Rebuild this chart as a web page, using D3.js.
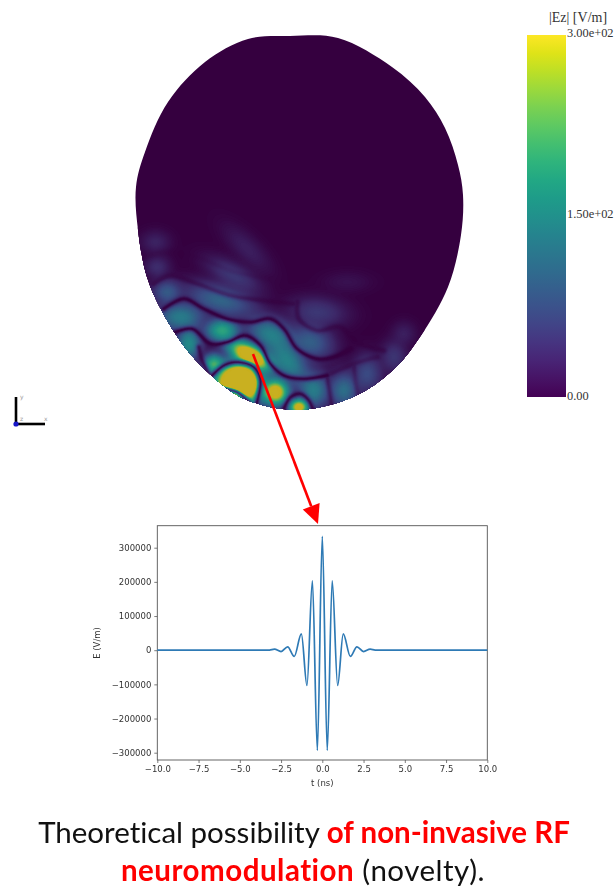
<!DOCTYPE html>
<html><head><meta charset="utf-8">
<script src="https://cdn.jsdelivr.net/npm/d3@7"></script>
<style>html,body{margin:0;padding:0;background:#fff}svg{display:block}</style></head>
<body><svg id="c" width="614" height="887"></svg>
<script>
// Waveform extrema
const waveT=[-10,-3.6,-3.2,-2.9,-2.5,-2.1,-1.7,-1.27,-0.93,-0.6,-0.3,0,0.3,0.6,0.93,1.27,1.7,2.1,2.5,2.9,3.2,3.6,10];
const waveE=[0,0,500,3000,-4000,10000,-18000,48000,-103000,203000,-293000,333000,-293000,203000,-103000,48000,-18000,10000,-4000,3000,500,0,0];
const xTicks=[-10,-7.5,-5,-2.5,0,2.5,5,7.5,10];
const yTicks=[-300000,-200000,-100000,0,100000,200000,300000];
// Head outline, picture units
const headX=[290,338,392,425,445,458,463,461,448,420,393,353,297,247,220,187,163,147,138,136,145,168,205,248];
const headY=[36,38,67,97,128,165,195,235,287,337,370,397,410,400,383,350,313,277,230,187,152,102,62,39];
// Field blobs: centre, radii (crop units), level, rotation
const blobX=[105,380,110,340,140,300,180,305,450,500,590,570,205,280,390,355,465,535,580,670,740,820,850,680];
const blobY=[65,85,140,165,215,240,290,330,340,420,275,365,370,430,405,490,515,560,510,510,460,410,340,185];
const blobRx=[36,75,32,72,36,85,58,40,60,70,70,55,30,26,58,55,32,24,38,36,36,32,30,60];
const blobRy=[28,30,28,30,30,36,36,28,38,38,36,42,40,24,26,50,32,20,44,44,46,40,30,26];
const blobV=[.1,.09,.13,.17,.3,.34,.44,.66,.44,.48,.17,.32,.52,.7,1.2,1.6,1.05,1.0,.44,.38,.24,.16,.09,.05];
const blobR=[0,45,0,28,0,15,0,0,20,50,5,20,0,0,28,0,0,0,0,0,0,0,0,0];
// Dark node lines (crop units) and their strength
const ridges=[
 [[70,110],[140,95],[230,110],[330,150],[450,175]],
 [[100,190],[150,165],[230,190],[330,225],[430,240],[520,250]],
 [[130,265],[190,235],[250,265],[320,295],[390,305],[450,295],[490,325],[530,385],[590,415],[640,410],[690,385]],
 [[165,335],[215,325],[270,370],[320,365],[375,345],[420,375],[450,430],[490,465],[550,475],[620,465]],
 [[270,470],[310,435],[350,425],[400,440],[420,480],[408,550]],
 [[305,505],[350,515],[385,545]],
 [[490,565],[510,530],[540,520],[565,540],[578,570]],
 [[620,470],[630,530],[635,570]],
 [[700,430],[705,480],[715,530]],
 [[530,245],[535,295],[590,330],[660,320],[710,365],[790,390]],
 [[235,380],[245,420],[270,470]],
 [[620,465],[700,430],[770,410]]
];
const ridgeS=[.2,.55,.95,.97,.95,.9,.9,.6,.45,.55,.8,.45];
const fieldStops=[.0,.12,.25,.4,.55,.68,.8,.9,1];
const fieldColors=["#35003f","#3d2a6a","#3a4d85","#2b7389","#209088","#2fa67c","#7ab648","#c9b020","#c9b020"];
const cbTicks=[["3.00e+02",37],["1.50e+02",218],["0.00",400]];

const svg=d3.select("#c");
const defs=svg.append("defs");
const imgX=d3.scaleLinear([0,614],[0,614]),imgY=d3.scaleLinear([0,887],[0,887]);
const cx=d3.scaleLinear([0,1080],[120,480]),cy=d3.scaleLinear([0,600],[220,420]);

// head
const head=d3.line().x((d,i)=>imgX(headX[i])).y((d,i)=>imgY(headY[i])).curve(d3.curveCatmullRomClosed.alpha(.5))(headX);
defs.append("clipPath").attr("id","hc").append("path").attr("d",head);
svg.append("path").attr("d",head).attr("fill","#35003f");

// field grid
const step=3,gridTop=-150,nx=Math.ceil(1080/step),ny=Math.ceil((600-gridTop)/step);
const segs=[];
const probe=document.createElementNS("http://www.w3.org/2000/svg","path");
ridges.forEach((r,k)=>{
 probe.setAttribute("d",d3.line().curve(d3.curveCatmullRom.alpha(.5))(r));
 const L=probe.getTotalLength(),n=Math.max(2,Math.ceil(L/10));
 let p=null;
 for(let i=0;i<=n;i++){const q=probe.getPointAtLength(L*i/n),c=[q.x,q.y];if(p)segs.push([p,c,ridgeS[k]]);p=c;}
});
const segD=(px,py,a,b)=>{const dx=b[0]-a[0],dy=b[1]-a[1];let t=((px-a[0])*dx+(py-a[1])*dy)/(dx*dx+dy*dy);t=Math.max(0,Math.min(1,t));return Math.hypot(px-a[0]-t*dx,py-a[1]-t*dy);};
const vals=new Float64Array(nx*ny);
for(let j=0;j<ny;j++)for(let i=0;i<nx;i++){
 const px=i*step,py=j*step+gridTop;let s=0;
 blobX.forEach((bx,k)=>{
  const a=blobR[k]*Math.PI/180,dx=px-bx,dy=py-blobY[k];
  const u=(dx*Math.cos(a)+dy*Math.sin(a))/blobRx[k],v=(-dx*Math.sin(a)+dy*Math.cos(a))/blobRy[k];
  const g=blobV[k]*Math.exp(-(u*u+v*v)*.6);
  s+=g*g;
 });
 s=Math.sqrt(s);
 let f=1;
 segs.forEach(sg=>{const d=segD(px,py,sg[0],sg[1]);f=Math.min(f,1-sg[2]*Math.exp(-d*d/(2*6*6)));});
 vals[j*nx+i]=Math.min(1,s*f);
}
const thresholds=d3.range(.006,1.001,.006);
const fc=d3.scaleLinear().domain(fieldStops).range(fieldColors).interpolate(d3.interpolateRgb);
const contours=d3.contours().size([nx,ny]).thresholds(thresholds)(Array.from(vals));
const gf=svg.append("g").attr("clip-path","url(#hc)")
 .append("g").attr("transform",`translate(${cx(0)},${cy(gridTop)}) scale(${step/3})`);
gf.selectAll("path").data(contours).join("path").attr("d",d3.geoPath()).attr("fill",d=>fc(d.value));

// colour bar
const cb={x:527,y:35,w:39,h:362};
const lg=defs.append("linearGradient").attr("id","vg").attr("x1",0).attr("x2",0).attr("y1",1).attr("y2",0);
d3.range(0,1.001,.05).forEach(t=>lg.append("stop").attr("offset",t).attr("stop-color",d3.interpolateViridis(t)));
svg.append("rect").attr("x",cb.x).attr("y",cb.y).attr("width",cb.w).attr("height",cb.h).attr("fill","url(#vg)");
const serif="'Liberation Serif',serif";
svg.append("text").attr("x",549).attr("y",22).attr("font-family",serif).attr("font-size",14).attr("fill","#333").text("|Ez| [V/m]");
svg.selectAll(".cbt").data(cbTicks).join("text").attr("class","cbt").attr("x",567).attr("y",d=>d[1]).attr("font-family",serif).attr("font-size",12.4).attr("fill","#333").text(d=>d[0]);

// triad
const tr=svg.append("g");
tr.append("line").attr("x1",16).attr("y1",424).attr("x2",16).attr("y2",397).attr("stroke","#000").attr("stroke-width",2.6);
tr.append("line").attr("x1",16).attr("y1",424).attr("x2",45).attr("y2",424).attr("stroke","#000").attr("stroke-width",2.6);
tr.append("circle").attr("cx",16).attr("cy",424).attr("r",2.6).attr("fill","#1616c8");
[["y",20,399],["z",20,421],["x",44,421]].forEach(d=>tr.append("text").attr("x",d[1]).attr("y",d[2]).attr("font-family","'DejaVu Sans'").attr("font-size",6).attr("fill","#999").text(d[0]));

// plot
const P={l:157.3,r:487.3,t:525.7,b:760};
const x=d3.scaleLinear([-10,10],[P.l,P.r]);
const y=d3.scaleLinear([-300000,300000],[752.7,547.7]);
const blurF=defs.append("filter").attr("id","soft").attr("x","-5%").attr("y","-5%").attr("width","110%").attr("height","110%");
blurF.append("feGaussianBlur").attr("stdDeviation",.35);
const g=svg.append("g").attr("filter","url(#soft)");
const fmtX=d=>d3.format(".1f")(d).replace("-","\u2212");
const ax=g.append("g").attr("transform",`translate(0,${P.b})`).call(d3.axisBottom(x).tickValues(xTicks).tickFormat(fmtX).tickSize(3).tickPadding(3));
const ay=g.append("g").attr("transform",`translate(${P.l},0)`).call(d3.axisLeft(y).tickValues(yTicks).tickFormat(d=>String(d).replace("-","\u2212")).tickSize(3).tickPadding(3));
[ax,ay].forEach(a=>{a.select(".domain").remove();a.selectAll("text").attr("font-family","'DejaVu Sans'").attr("font-size",8.5).attr("fill","#333");a.selectAll("line").attr("stroke","#444").attr("stroke-width",.7);});
g.append("rect").attr("x",P.l).attr("y",P.t).attr("width",P.r-P.l).attr("height",P.b-P.t).attr("fill","none").attr("stroke","#555").attr("stroke-width",.9);
g.append("path").attr("d",d3.line().x((d,i)=>x(d)).y((d,i)=>y(waveE[i])).curve(d3.curveMonotoneX)(waveT)).attr("fill","none").attr("stroke","#2f7ab5").attr("stroke-width",1.7);
g.append("text").attr("x",(P.l+P.r)/2).attr("y",786).attr("text-anchor","middle").attr("font-family","'DejaVu Sans'").attr("font-size",8.5).attr("fill","#333").text("t (ns)");
g.append("text").attr("transform","translate(100,643) rotate(-90)").attr("text-anchor","middle").attr("font-family","'DejaVu Sans'").attr("font-size",8.5).attr("fill","#333").text("E (V/m)");

// arrow
const A={x1:253,y1:354,x2:318,y2:524};
const ang=Math.atan2(A.y2-A.y1,A.x2-A.x1),hl=19,hw=9;
const bx=A.x2-hl*Math.cos(ang),by=A.y2-hl*Math.sin(ang);
svg.append("line").attr("x1",A.x1).attr("y1",A.y1).attr("x2",bx).attr("y2",by).attr("stroke","#ff0000").attr("stroke-width",2.6);
svg.append("path").attr("d",d3.line()([[A.x2,A.y2],[bx-hw*Math.sin(ang),by+hw*Math.cos(ang)],[bx+hw*Math.sin(ang),by-hw*Math.cos(ang)]])+"Z").attr("fill","#ff0000");

// caption
const capF="Lato,sans-serif";
const t1=svg.append("text").attr("x",304).attr("y",843).attr("text-anchor","middle").attr("font-family",capF).attr("font-size",29.5).attr("fill","#111").style("font-variant-ligatures","none");
t1.append("tspan").text("Theoretical possibility ");
t1.append("tspan").attr("font-weight",700).attr("fill","#ff0000").text("of non-invasive RF");
const t2=svg.append("text").attr("x",303).attr("y",881).attr("text-anchor","middle").attr("font-family",capF).attr("font-size",29.5).attr("letter-spacing",.5).attr("fill","#111").style("font-variant-ligatures","none");
t2.append("tspan").attr("font-weight",700).attr("fill","#ff0000").text("neuromodulation");
t2.append("tspan").text(" (novelty).");
</script></body></html>
